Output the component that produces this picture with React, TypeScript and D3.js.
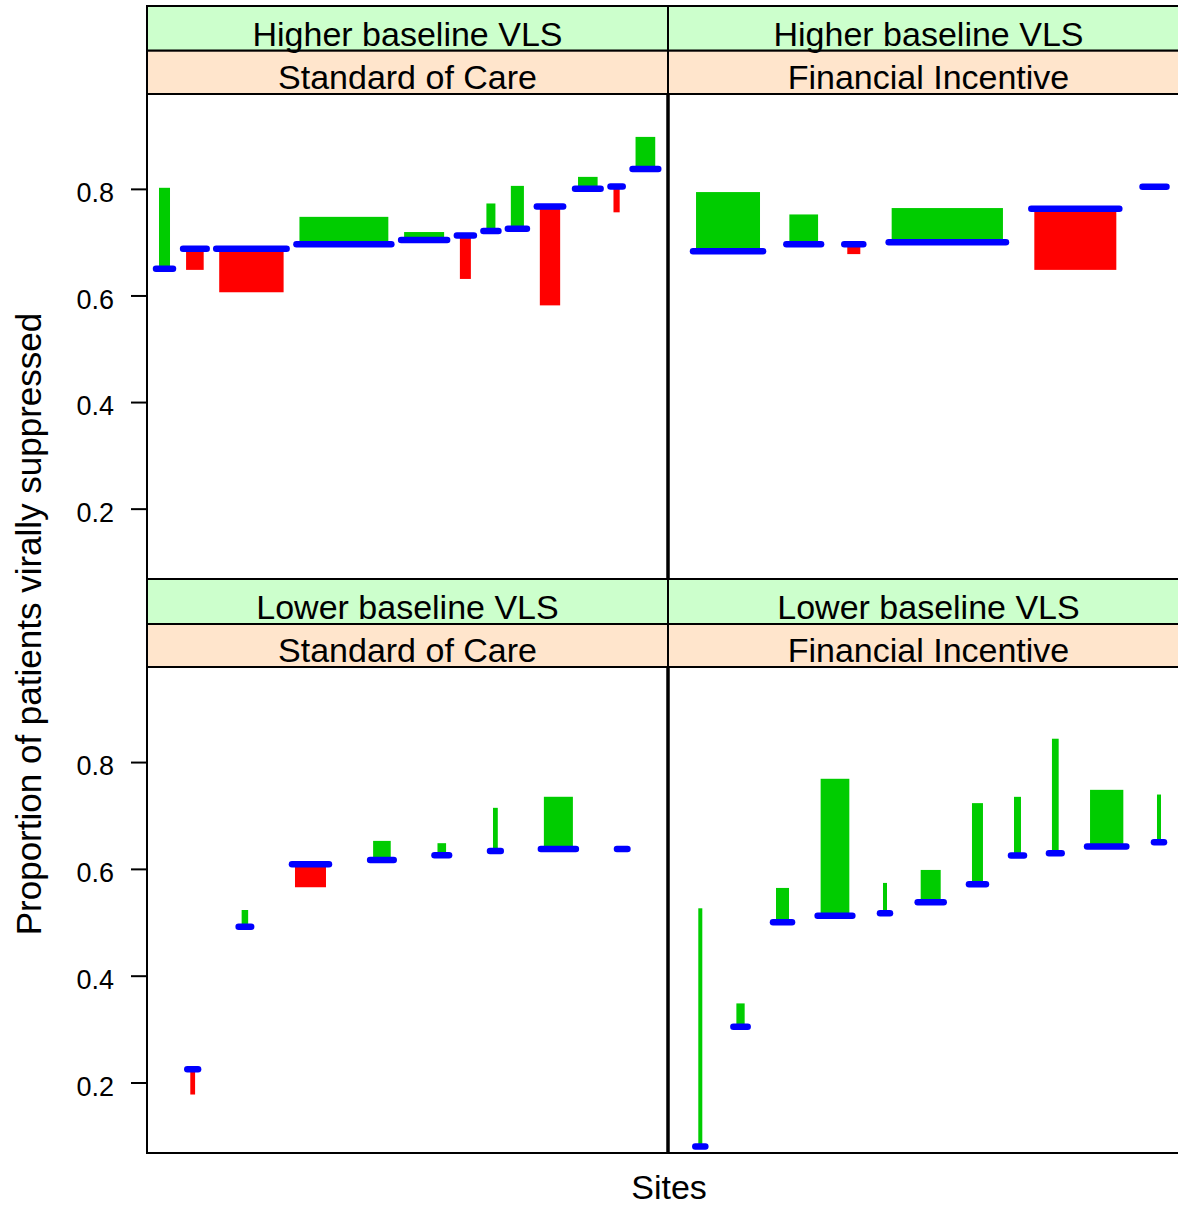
import React, { useRef, useEffect } from "react";
import * as d3 from "d3";

// strip labels
const groupLabels = ["Higher baseline VLS", "Lower baseline VLS"];
const armLabels = ["Standard of Care", "Financial Incentive"];
const yTicks = [0.2, 0.4, 0.6, 0.8];

// site position along the panel (0-100), bar width (site size), baseline and endline VLS
// higher baseline, standard of care
const hiSocPos = [3.36, 9.19, 20.04, 37.79, 53.19, 61.11, 66.01, 71.09, 77.35, 84.61, 90.13, 95.66];
const hiSocWidth = [2.11, 3.38, 12.36, 17.06, 7.68, 2.11, 1.73, 2.51, 3.9, 3.76, 1.19, 3.78];
const hiSocBase = [0.65, 0.6875, 0.6875, 0.696, 0.704, 0.7126, 0.721, 0.725, 0.767, 0.8, 0.8045, 0.8375];
const hiSocEnd = [0.802, 0.648, 0.606, 0.7475, 0.719, 0.631, 0.7726, 0.8056, 0.5814, 0.8225, 0.756, 0.8975];

// higher baseline, financial incentive
const hiFinPos = [11.52, 26.05, 35.66, 53.61, 78.18, 93.38];
const hiFinWidth = [12.28, 5.51, 2.5, 21.36, 15.74, 3.45];
const hiFinBase = [0.683, 0.696, 0.696, 0.7, 0.7625, 0.804];
const hiFinEnd = [0.794, 0.752, 0.6776, 0.764, 0.648, 0.804];

// lower baseline, standard of care
const loSocPos = [8.77, 18.79, 31.38, 45.09, 56.58, 66.87, 78.96, 91.21];
const loSocWidth = [0.92, 1.25, 5.95, 3.38, 1.65, 0.92, 5.57, 0.86];
const loSocBase = [0.2249, 0.4917, 0.6087, 0.6168, 0.6256, 0.6337, 0.6374, 0.6374];
const loSocEnd = [0.1775, 0.523, 0.5656, 0.6524, 0.6481, 0.7143, 0.735, 0.6374];

// lower baseline, financial incentive
const loFinPos = [6.2, 13.92, 21.98, 32.05, 41.65, 50.42, 59.4, 67.08, 74.34, 84.2, 94.24];
const loFinWidth = [0.77, 1.59, 2.5, 5.51, 0.77, 3.84, 2.11, 1.34, 1.29, 6.39, 0.77];
const loFinBase = [0.08, 0.3042, 0.5, 0.5124, 0.5169, 0.5375, 0.5712, 0.6249, 0.6293, 0.6417, 0.65];
const loFinEnd = [0.5262, 0.3481, 0.5643, 0.7687, 0.5737, 0.598, 0.7231, 0.7349, 0.8437, 0.748, 0.7392];

const panels = [
  { row: 0, col: 0, pos: hiSocPos, w: hiSocWidth, base: hiSocBase, end: hiSocEnd },
  { row: 0, col: 1, pos: hiFinPos, w: hiFinWidth, base: hiFinBase, end: hiFinEnd },
  { row: 1, col: 0, pos: loSocPos, w: loSocWidth, base: loSocBase, end: loSocEnd },
  { row: 1, col: 1, pos: loFinPos, w: loFinWidth, base: loFinBase, end: loFinEnd },
];

const width = 1178;
const height = 1205;
const font = "'Liberation Sans', Arial, sans-serif";

const layout = {
  left: 147,
  panelW: 521,
  rows: [
    { top: 6, strip1: 50.7, strip2: 94, bottom: 579 },
    { top: 579, strip1: 624, strip2: 667, bottom: 1153 },
  ],
};

function App() {
  const svgRef = useRef(null);

  useEffect(() => {
    const svg = d3.select(svgRef.current);
    svg.selectAll("*").remove();
    const g = svg.append("g");

    panels.forEach((p) => {
      const r = layout.rows[p.row];
      const x0 = layout.left + p.col * layout.panelW;
      const x = d3.scaleLinear().domain([0, 100]).range([x0, x0 + layout.panelW]);
      const y = d3.scaleLinear().domain([0.068, 0.978]).range([r.bottom, r.strip2]);

      const rows = p.pos.map((c, i) => ({ c, w: p.w[i], base: p.base[i], end: p.end[i] }));

      // strips
      g.append("rect")
        .attr("x", x0).attr("y", r.top)
        .attr("width", layout.panelW).attr("height", r.strip1 - r.top)
        .attr("fill", "#ccffcc").attr("stroke", "#000").attr("stroke-width", 2);
      g.append("rect")
        .attr("x", x0).attr("y", r.strip1)
        .attr("width", layout.panelW).attr("height", r.strip2 - r.strip1)
        .attr("fill", "#ffe5cc").attr("stroke", "#000").attr("stroke-width", 2);
      g.append("text")
        .attr("x", x0 + layout.panelW / 2).attr("y", r.strip1 - 5)
        .attr("text-anchor", "middle").attr("font-family", font).attr("font-size", 34)
        .text(groupLabels[p.row]);
      g.append("text")
        .attr("x", x0 + layout.panelW / 2).attr("y", r.strip2 - 5.5)
        .attr("text-anchor", "middle").attr("font-family", font).attr("font-size", 34)
        .text(armLabels[p.col]);

      // bars from baseline to endline
      g.append("g").selectAll("rect")
        .data(rows.filter((d) => d.end !== d.base))
        .enter()
        .append("rect")
        .attr("x", (d) => x(d.c - d.w / 2))
        .attr("width", (d) => x(d.w) - x(0))
        .attr("y", (d) => y(Math.max(d.base, d.end)))
        .attr("height", (d) => Math.abs(y(d.base) - y(d.end)))
        .attr("fill", (d) => (d.end > d.base ? "#00cc00" : "#ff0000"));

      // baseline markers
      g.append("g").selectAll("line")
        .data(rows)
        .enter()
        .append("line")
        .attr("x1", (d) => x(d.c - d.w / 2) - 3)
        .attr("x2", (d) => x(d.c + d.w / 2) + 3)
        .attr("y1", (d) => y(d.base))
        .attr("y2", (d) => y(d.base))
        .attr("stroke", "#0000ff")
        .attr("stroke-width", 6.5)
        .attr("stroke-linecap", "round");

      // panel box
      g.append("rect")
        .attr("x", x0).attr("y", r.strip2)
        .attr("width", layout.panelW).attr("height", r.bottom - r.strip2)
        .attr("fill", "none").attr("stroke", "#000").attr("stroke-width", 2);

      if (p.col === 0) {
        const axis = d3.axisLeft(y).tickValues(yTicks).tickSize(16).tickPadding(17)
          .tickFormat(d3.format(".1f"));
        const ax = g.append("g").attr("transform", `translate(${x0}, 0)`).call(axis);
        ax.select(".domain").remove();
        ax.selectAll(".tick line").attr("stroke", "#000").attr("stroke-width", 2);
        ax.selectAll(".tick text")
          .attr("font-family", font).attr("font-size", 27).attr("fill", "#000")
          .attr("dy", "0.47em");
      }
    });

    // divider between columns is drawn twice in lattice, so thicken it
    g.append("line")
      .attr("x1", layout.left + layout.panelW).attr("x2", layout.left + layout.panelW)
      .attr("y1", layout.rows[0].strip2).attr("y2", layout.rows[0].bottom)
      .attr("stroke", "#000").attr("stroke-width", 3.5);
    g.append("line")
      .attr("x1", layout.left + layout.panelW).attr("x2", layout.left + layout.panelW)
      .attr("y1", layout.rows[1].strip2).attr("y2", layout.rows[1].bottom)
      .attr("stroke", "#000").attr("stroke-width", 3.5);

    g.append("text")
      .attr("x", 669).attr("y", 1199)
      .attr("text-anchor", "middle").attr("font-family", font).attr("font-size", 34)
      .text("Sites");

    g.append("text")
      .attr("transform", "translate(41, 624) rotate(-90)")
      .attr("text-anchor", "middle").attr("font-family", font).attr("font-size", 35)
      .text("Proportion of patients virally suppressed");
  }, []);

  return (
    <svg
      ref={svgRef}
      width={width}
      height={height}
      style={{ position: "absolute", left: 0, top: 0, background: "#fff" }}
    />
  );
}

export default App;
